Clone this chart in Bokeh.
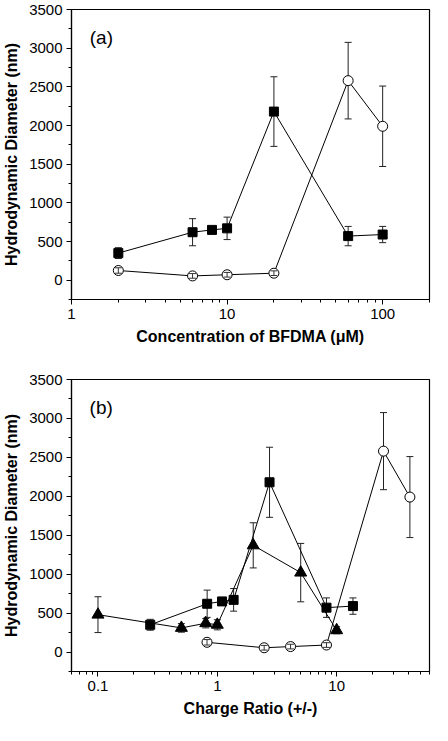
from bokeh.plotting import figure
from bokeh.layouts import column
from bokeh.models import (ColumnDataSource, Whisker, TeeHead, FixedTicker,
                          SingleIntervalTicker, NumeralTickFormatter, Label, Range1d)
from bokeh.embed import file_html
from bokeh.resources import INLINE

# ---- data (panel a: concentration of BFDMA, µM) ----
sq_conc = [2, 6, 8, 10, 20, 60, 100]
sq_y = [350, 620, 650, 670, 2180, 570, 590]
sq_err = [70, 175, 30, 145, 450, 125, 105]

circ_conc = [2, 6, 10, 20, 60, 100]
circ_y = [125, 55, 70, 90, 2580, 1990]
circ_err = [35, 30, 30, 30, 495, 520]

# ---- data (panel b: charge ratio) ----
sq_ratio = [0.274, 0.822, 1.096, 1.37, 2.74, 8.22, 13.7]
circ_ratio = [0.82, 2.47, 4.11, 8.22, 24.7, 41.1]
tri_ratio = [0.1, 0.5, 0.8, 1.0, 2.0, 5.0, 10.0]
tri_y = [480, 310, 370, 350, 1370, 1020, 280]
tri_err = [230, 55, 60, 65, 290, 375, 45]

x_ticks_a = [1, 10, 100]
x_ticks_b = [0.1, 1, 10]
y_label = "Hydrodynamic Diameter (nm)"
x_label_a = "Concentration of BFDMA (\u03bcM)"
x_label_b = "Charge Ratio (+/-)"

FONT = "Liberation Sans"


def minor_list(lo_exp, hi_exp):
    out = []
    for e in range(lo_exp, hi_exp + 1):
        for m in range(2, 10):
            out.append(m * 10.0 ** e)
    return out


def make_fig(x_range, ticks, minors, xlabel, height, top, bottom, tag, tag_x):
    p = figure(width=432, height=height, x_axis_type="log",
               x_range=Range1d(*x_range), y_range=Range1d(-250, 3500),
               output_backend="svg", toolbar_location=None,
               min_border_left=65, min_border_right=3,
               min_border_top=top, min_border_bottom=bottom)
    p.grid.visible = False
    p.outline_line_color = "black"
    p.outline_line_width = 1.2
    p.background_fill_color = "white"
    p.border_fill_color = "white"

    xa = p.xaxis[0]
    xa.ticker = FixedTicker(ticks=ticks, minor_ticks=minors)
    xa.formatter = NumeralTickFormatter(format="0.[0]")
    xa.axis_label = xlabel
    ya = p.yaxis[0]
    ya.ticker = SingleIntervalTicker(interval=500, num_minor_ticks=2)
    ya.axis_label = y_label
    for ax in (xa, ya):
        ax.axis_line_color = "black"
        ax.axis_line_width = 1.2
        ax.major_tick_in = 0
        ax.major_tick_out = 5
        ax.minor_tick_in = 0
        ax.minor_tick_out = 3
        ax.major_label_text_font = FONT
        ax.major_label_text_font_size = "15px"
        ax.major_label_text_color = "black"
        ax.axis_label_text_font = FONT
        ax.axis_label_text_font_size = "16px"
        ax.axis_label_text_font_style = "bold"
        ax.axis_label_text_color = "black"
        ax.major_label_standoff = 4
        ax.axis_label_standoff = 6
    p.add_layout(Label(x=tag_x, y=3140, text=tag, text_font=FONT,
                       text_font_size="19px", text_baseline="middle",
                       text_color="black"))
    return p


def add_series(p, xs, ys, errs, marker, size, fill, over_small=False):
    lo = [a - b for a, b in zip(ys, errs)]
    hi = [a + b for a, b in zip(ys, errs)]
    src = ColumnDataSource(dict(x=xs, y=ys, lo=lo, hi=hi))
    p.line("x", "y", source=src, line_color="black", line_width=1)
    w = Whisker(source=src, base="x", lower="lo", upper="hi",
                line_color="#222222", line_width=1,
                upper_head=TeeHead(size=7, line_color="#222222", line_width=1),
                lower_head=TeeHead(size=7, line_color="#222222", line_width=1))
    p.add_layout(w)
    p.scatter("x", "y", source=src, marker=marker, size=size,
              fill_color=fill, line_color="black", line_width=1)
    if over_small:
        keep = [i for i, e in enumerate(errs) if e < 60]
        src2 = ColumnDataSource(dict(x=[xs[i] for i in keep],
                                     lo=[lo[i] for i in keep],
                                     hi=[hi[i] for i in keep]))
        w2 = Whisker(source=src2, base="x", lower="lo", upper="hi", level="overlay",
                     line_color="#333333", line_width=1,
                     upper_head=TeeHead(size=7, line_color="#333333", line_width=1),
                     lower_head=TeeHead(size=7, line_color="#333333", line_width=1))
        p.add_layout(w2)


pa = make_fig((1, 200), x_ticks_a, minor_list(0, 2), x_label_a,
              357, 9, 58, "(a)", 1.31)
add_series(pa, sq_conc, sq_y, sq_err, "square", 9, "black")
add_series(pa, circ_conc, circ_y, circ_err, "circle", 10, "white", over_small=True)

pb = make_fig((0.06, 60), x_ticks_b, minor_list(-2, 1), x_label_b,
              368, 22, 54, "(b)", 0.085)
add_series(pb, tri_ratio, tri_y, tri_err, "triangle", 12, "black")
add_series(pb, sq_ratio, sq_y, sq_err, "square", 9, "black")
add_series(pb, circ_ratio, circ_y, circ_err, "circle", 10, "white", over_small=True)

layout = column(pa, pb, spacing=0)
open("out.html", "w").write(file_html(layout, INLINE))
